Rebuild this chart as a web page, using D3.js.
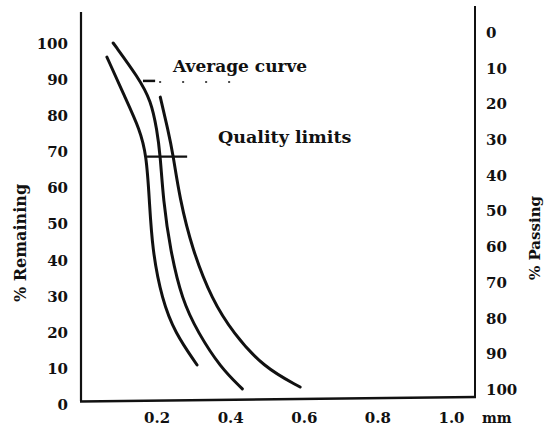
<!DOCTYPE html>
<html>
<head>
<meta charset="utf-8">
<script src="https://cdn.jsdelivr.net/npm/d3@7"></script>
<style>
  html, body { margin: 0; padding: 0; background: #fff; }
  svg { display: block; }
  text { fill: #111; }
</style>
</head>
<body>
<div id="chart"></div>
<script>
// ---- Data ----
// grain size in mm vs % remaining
const lowerLimit = [
  [0.065, 96.1], [0.114, 85.0], [0.155, 75.9], [0.172, 69.0], [0.180, 57.3],
  [0.188, 42.7], [0.215, 28.8], [0.250, 19.7], [0.310, 10.8]
];
const averageCurve = [
  [0.082, 100], [0.150, 90.5], [0.185, 84.0], [0.201, 75.9], [0.210, 69.0],
  [0.218, 56.5], [0.237, 42.7], [0.269, 28.8], [0.313, 19.7], [0.373, 10.2], [0.433, 4.2]
];
const upperLimit = [
  [0.210, 85.0], [0.231, 75.9], [0.245, 69.0], [0.262, 57.3], [0.297, 42.7],
  [0.351, 28.8], [0.408, 19.7], [0.490, 10.2], [0.590, 4.7]
];
const xTicks = [0.2, 0.4, 0.6, 0.8, 1.0];
const xTickLabels = ["0.2", "0.4", "0.6", "0.8", "1.0"];
const remainingTicks = [0, 10, 20, 30, 40, 50, 60, 70, 80, 90, 100];
const passingTicks = [0, 10, 20, 30, 40, 50, 60, 70, 80, 90, 100];
const xUnit = "mm";
const leftTitle = "% Remaining";
const rightTitle = "% Passing";
const avgLabel = "Average curve";
const qualLabel = "Quality limits";
// annotation anchors (data units)
const avgLeader = { y: 89.5, x0: 0.163, x1: 0.196, x2: 0.44 };
const qualLeader = { y: 68.5, x0: 0.174, x1: 0.283 };

// ---- Layout ----
const W = 546, H = 428;
const svg = d3.select("#chart").append("svg").attr("width", W).attr("height", H);

const x = d3.scaleLinear().domain([0, 1]).range([83, 451]);
const y = d3.scaleLinear().domain([0, 100]).range([404, 43]);
const yR = d3.scaleLinear().domain([0, 100]).range([32, 389]);

const frame = { left: 81, right: 475, bottom: 400, topL: 12, topR: 6 };
const ink = "#111";
const numFont = "'DejaVu Serif', serif";

// frame lines
svg.append("line").attr("x1", frame.left).attr("x2", frame.left)
  .attr("y1", frame.topL).attr("y2", frame.bottom + 1)
  .attr("stroke", ink).attr("stroke-width", 2.2);
svg.append("line").attr("x1", frame.right).attr("x2", frame.right)
  .attr("y1", frame.topR).attr("y2", frame.bottom - 2)
  .attr("stroke", ink).attr("stroke-width", 2);
svg.append("line").attr("x1", frame.left - 1).attr("x2", frame.right + 1)
  .attr("y1", frame.bottom + 1.5).attr("y2", frame.bottom - 3)
  .attr("stroke", ink).attr("stroke-width", 2.4);

// left axis labels (no tick marks)
const leftAxis = d3.axisLeft(y).tickValues(remainingTicks).tickSize(0).tickPadding(0)
  .tickFormat(d3.format("d"));
const gL = svg.append("g").attr("transform", "translate(68,0)").call(leftAxis);
gL.select(".domain").remove();
gL.selectAll("text").attr("font-family", numFont).attr("font-weight", "bold")
  .attr("font-size", 15).attr("fill", ink).attr("dy", "0.36em");

// right axis labels
const rightAxis = d3.axisRight(yR).tickValues(passingTicks).tickSize(0).tickPadding(0)
  .tickFormat(d3.format("d"));
const gR = svg.append("g").attr("transform", "translate(486,0)").call(rightAxis);
gR.select(".domain").remove();
gR.selectAll("text").attr("font-family", numFont).attr("font-weight", "bold")
  .attr("font-size", 15).attr("fill", ink).attr("dy", "0.36em");

// bottom axis labels
const bottomAxis = d3.axisBottom(x).tickValues(xTicks).tickSize(0).tickPadding(0)
  .tickFormat((d, i) => xTickLabels[i]);
const gB = svg.append("g").attr("transform", "translate(0,412)").call(bottomAxis);
gB.select(".domain").remove();
gB.selectAll("text").attr("font-family", numFont).attr("font-weight", "bold")
  .attr("font-size", 15).attr("fill", ink).attr("dy", "0.71em");

svg.append("text").attr("x", 482).attr("y", 423)
  .attr("font-family", numFont).attr("font-weight", "bold").attr("font-size", 14)
  .text(xUnit);

// axis titles
svg.append("text")
  .attr("transform", "translate(26,243) rotate(-90)")
  .attr("text-anchor", "middle")
  .attr("font-family", numFont).attr("font-weight", "bold").attr("font-size", 16)
  .text(leftTitle);
svg.append("text")
  .attr("transform", "translate(540,238) rotate(-90)")
  .attr("text-anchor", "middle")
  .attr("font-family", numFont).attr("font-weight", "bold").attr("font-size", 15)
  .text(rightTitle);

// curves
const line = d3.line().x(d => x(d[0])).y(d => y(d[1])).curve(d3.curveBasis);
[lowerLimit, averageCurve, upperLimit].forEach(s => {
  svg.append("path").datum(s).attr("d", line)
    .attr("fill", "none").attr("stroke", ink).attr("stroke-width", 3)
    .attr("stroke-linecap", "round");
});

// annotations
svg.append("line")
  .attr("x1", x(avgLeader.x0)).attr("x2", x(avgLeader.x1))
  .attr("y1", y(avgLeader.y)).attr("y2", y(avgLeader.y))
  .attr("stroke", ink).attr("stroke-width", 2.5);
svg.append("line")
  .attr("x1", x(avgLeader.x1) + 4).attr("x2", x(avgLeader.x2))
  .attr("y1", y(avgLeader.y) + 1).attr("y2", y(avgLeader.y) + 1)
  .attr("stroke", ink).attr("stroke-width", 1.5).attr("stroke-dasharray", "2 21");
svg.append("text").attr("x", 173).attr("y", 72)
  .attr("font-family", numFont).attr("font-weight", "bold").attr("font-size", 17)
  .text(avgLabel);

svg.append("line")
  .attr("x1", x(qualLeader.x0)).attr("x2", x(qualLeader.x1))
  .attr("y1", y(qualLeader.y)).attr("y2", y(qualLeader.y))
  .attr("stroke", ink).attr("stroke-width", 2.2);
svg.append("text").attr("x", 218).attr("y", 143)
  .attr("font-family", numFont).attr("font-weight", "bold").attr("font-size", 17.5)
  .text(qualLabel);
</script>
</body>
</html>
